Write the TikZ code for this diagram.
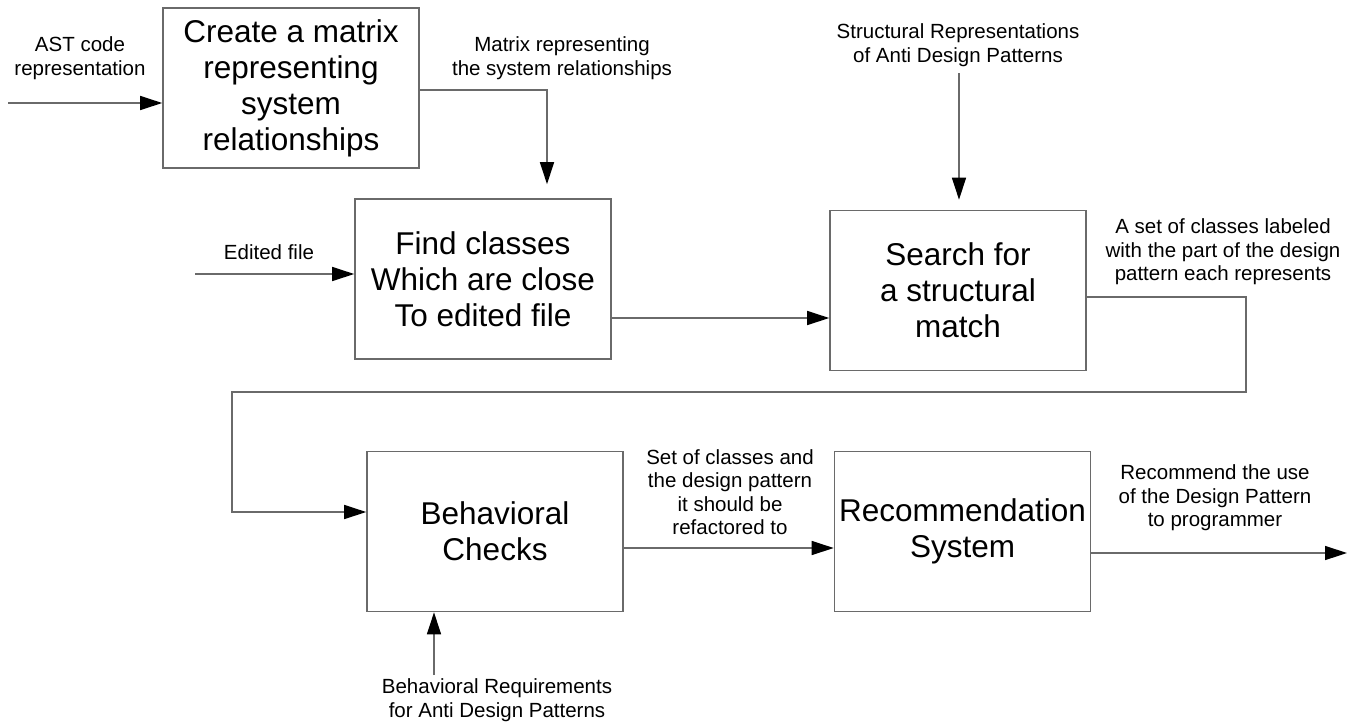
\documentclass[tikz,border=0pt]{standalone}
\usepackage{fontspec}
\setmainfont{Liberation Sans}
\usetikzlibrary{arrows.meta}
\definecolor{linegray}{HTML}{6A6A6A}
\tikzset{
  procbox/.style={draw=linegray, line width=1.6pt, minimum width=256pt, minimum height=160pt,
    inner sep=0pt, align=center, font=\fontsize{31.5}{36}\selectfont},
  flowlabel/.style={align=center, inner sep=0pt, font=\fontsize{20.5}{23.5}\selectfont},
  flow/.style={draw=linegray, line width=1.4pt,
    -{Triangle[length=22pt,width=14pt,color=black]}}
}
\begin{document}
\begin{tikzpicture}[x=1pt,y=-1pt]
\useasboundingbox (0,0) rectangle (1354,721);

% process boxes
\node[procbox] (box1) at (291,88) {Create a matrix\\representing\\system\\relationships};
\node[procbox] (box2) at (483,279) {Find classes\\Which are close\\To edited file};
\node[procbox] (box3) at (958,290.5) {Search for\\a structural\\match};
\node[procbox] (box4) at (495,531.5) {Behavioral\\Checks};
\node[procbox] (box5) at (962.5,531.5) {Recommendation\\System};

% labels
\node[flowlabel] (lAst) at (80,58) {AST code\\representation};
\node[flowlabel] (lMatrix) at (562,58) {Matrix representing\\the system relationships};
\node[flowlabel] (lEdited) at (269,252) {Edited file};
\node[flowlabel] (lStruct) at (958,45) {Structural Representations\\of Anti Design Patterns};
\node[flowlabel] (lSet) at (1223,252) {A set of classes labeled\\with the part of the design\\pattern each represents};
\node[flowlabel] (lRefactor) at (730,492) {Set of classes and\\the design pattern\\it should be\\refactored to};
\node[flowlabel] (lRecommend) at (1215,498) {Recommend the use\\of the Design Pattern\\to programmer};
\node[flowlabel] (lBehav) at (497,700) {Behavioral Requirements\\for Anti Design Patterns};

% connector anchor points
\coordinate (inAst) at (8,103);
\coordinate (mBend) at (547,90);
\coordinate (inEdited) at (195,274);
\coordinate (midA) at (720,318);
\coordinate (inStruct) at (959,73);
\coordinate (r1) at (1246,297);
\coordinate (r2) at (1246,392);
\coordinate (r3) at (232,392);
\coordinate (r4) at (232,512);
\coordinate (midB) at (730,548);
\coordinate (outRec) at (1347,553);
\coordinate (inBehav) at (434,675);

% connectors
\draw[flow] (inAst) -- (inAst -| box1.west);
\draw[flow, shorten >=14pt] (mBend -| box1.east) -- (mBend) -- (mBend |- box2.north);
\draw[flow] (inEdited) -- (inEdited -| box2.west);
\draw[flow] (midA -| box2.east) -- (midA -| box3.west);
\draw[flow, shorten >=10pt] (inStruct) -- (inStruct |- box3.north);
\draw[flow] (r1 -| box3.east) -- (r1) -- (r2) -- (r3) -- (r4) -- (r4 -| box4.west);
\draw[flow] (midB -| box4.east) -- (midB -| box5.west);
\draw[flow] (outRec -| box5.east) -- (outRec);
\draw[flow] (inBehav) -- (inBehav |- box4.south);
\end{tikzpicture}
\end{document}
